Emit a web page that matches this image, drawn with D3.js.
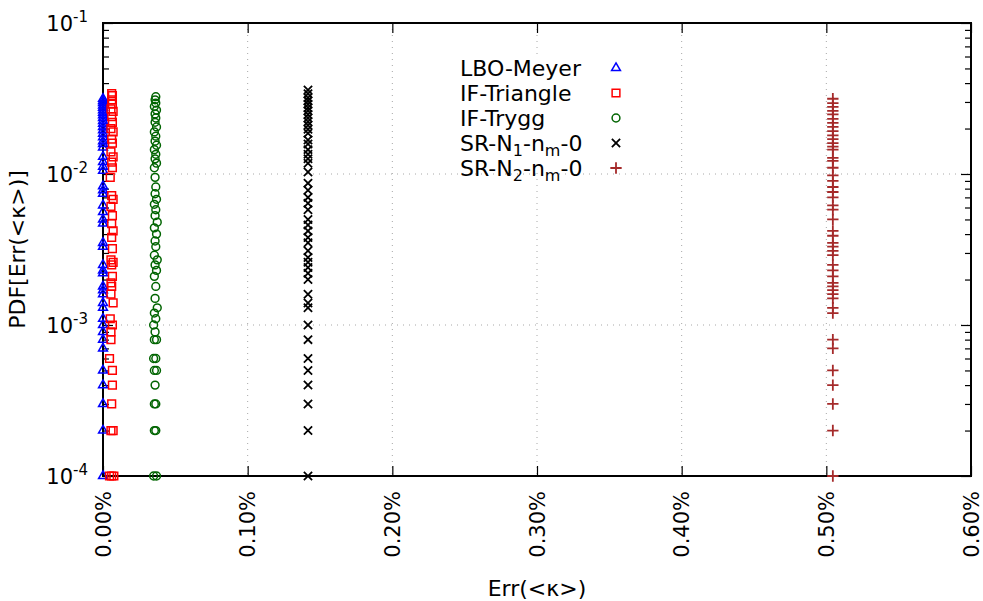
<!DOCTYPE html>
<html>
<head>
<meta charset="utf-8">
<script src="https://cdn.jsdelivr.net/npm/d3@7"></script>
<style>
  html, body { margin: 0; padding: 0; background: #fff; }
  svg { display: block; }
  text { font-family: "DejaVu Sans", sans-serif; }
</style>
</head>
<body>
<svg id="chart" width="983" height="601"></svg>
<script>
// ---------------- data ----------------
const xTicks = [0, 0.1, 0.2, 0.3, 0.4, 0.5, 0.6];           // Err in %
const xTickLabels = ["0.00%", "0.10%", "0.20%", "0.30%", "0.40%", "0.50%", "0.60%"];
const yTickExps = [-1, -2, -3, -4];

const seriesNames = ["LBO-Meyer", "IF-Triangle", "IF-Trygg", "SR-N1-nm-0", "SR-N2-nm-0"];
const seriesColors = ["#0000ff", "#ff0000", "#006400", "#000000", "#a52a2a"];

// LBO-Meyer: Err ~ 0.000 %
const lboErr = 0.0;
const lboPdf = [0.0001,0.0002,0.0003,0.0004,0.0005,0.0007,0.0008,0.0009,0.0010,0.0011,0.0013,0.0014,0.0016,0.0017,0.0018,0.0022,0.0023,0.0025,0.0033,0.0035,0.0047,0.0050,0.0056,0.0062,0.0074,0.0078,0.0083,0.0105,0.0112,0.0120,0.0130,0.0150,0.0158,0.0165,0.0175,0.0185,0.0195,0.0205,0.0215,0.0225,0.0235,0.0245,0.0255,0.0265,0.0275,0.0285,0.0295,0.0305,0.0315];

// IF-Triangle: [Err %, PDF]
const triPoints = [[0.0060,0.0001],[0.0045,0.0001],[0.0075,0.0001],[0.0055,0.0002],[0.0070,0.0002],[0.0060,0.0003],[0.0065,0.0004],[0.0065,0.0005],[0.0045,0.0006],[0.0055,0.0008],[0.0055,0.0009],[0.0065,0.0010],[0.0050,0.0011],[0.0070,0.0014],[0.0055,0.0016],[0.0060,0.0018],[0.0055,0.0019],[0.0065,0.0021],[0.0060,0.0025],[0.0070,0.0026],[0.0055,0.0027],[0.0065,0.0032],[0.0060,0.0038],[0.0070,0.0042],[0.0060,0.0047],[0.0065,0.0053],[0.0055,0.0061],[0.0070,0.0068],[0.0060,0.0072],[0.0050,0.0095],[0.0065,0.0110],[0.0060,0.0120],[0.0070,0.0130],[0.0055,0.0140],[0.0065,0.0160],[0.0060,0.0170],[0.0070,0.0190],[0.0055,0.0200],[0.0065,0.0220],[0.0060,0.0240],[0.0070,0.0260],[0.0055,0.0270],[0.0065,0.0290],[0.0060,0.0310],[0.0065,0.0330],[0.0060,0.0340]];

// IF-Trygg: [Err %, PDF]
const tryggPoints = [[0.0350,0.0001],[0.0370,0.0001],[0.0355,0.0002],[0.0365,0.0002],[0.0355,0.0003],[0.0365,0.0003],[0.0360,0.0004],[0.0355,0.0005],[0.0370,0.0005],[0.0350,0.0006],[0.0365,0.0006],[0.0355,0.0008],[0.0370,0.0008],[0.0360,0.0009],[0.0350,0.0010],[0.0365,0.0011],[0.0355,0.0012],[0.0375,0.0013],[0.0360,0.0015],[0.0365,0.0018],[0.0355,0.0021],[0.0370,0.0023],[0.0360,0.0025],[0.0375,0.0027],[0.0355,0.0029],[0.0365,0.0033],[0.0360,0.0036],[0.0370,0.0040],[0.0355,0.0044],[0.0375,0.0048],[0.0360,0.0053],[0.0365,0.0058],[0.0355,0.0063],[0.0370,0.0068],[0.0360,0.0074],[0.0365,0.0082],[0.0360,0.0095],[0.0355,0.0110],[0.0370,0.0118],[0.0360,0.0126],[0.0365,0.0135],[0.0355,0.0145],[0.0370,0.0155],[0.0360,0.0165],[0.0365,0.0178],[0.0355,0.0190],[0.0370,0.0205],[0.0360,0.0220],[0.0365,0.0235],[0.0360,0.0250],[0.0370,0.0265],[0.0355,0.0280],[0.0365,0.0295],[0.0360,0.0310],[0.0365,0.0325]];

// SR-N1-nm-0: Err ~ 0.1417 %
const srN1Err = 0.1417;
const srN1Pdf = [0.0001,0.0002,0.0003,0.0004,0.0005,0.0006,0.0008,0.0010,0.0013,0.0014,0.0016,0.0020,0.0022,0.0024,0.0026,0.0028,0.0031,0.0035,0.0038,0.0042,0.0046,0.0050,0.0058,0.0064,0.0070,0.0078,0.0087,0.0103,0.0118,0.0126,0.0135,0.0145,0.0158,0.0168,0.0186,0.0198,0.0210,0.0222,0.0235,0.0248,0.0262,0.0275,0.0290,0.0305,0.0320,0.0340,0.0360];

// SR-N2-nm-0: Err ~ 0.5045 %
const srN2Err = 0.5045;
const srN2Pdf = [0.0001,0.0002,0.0003,0.0004,0.0005,0.0007,0.0008,0.0012,0.0013,0.0015,0.0016,0.0017,0.0018,0.0019,0.0021,0.0023,0.0025,0.0029,0.0031,0.0033,0.0035,0.0039,0.0042,0.0050,0.0058,0.0062,0.0070,0.0076,0.0082,0.0090,0.0098,0.0110,0.0122,0.0128,0.0145,0.0152,0.0160,0.0170,0.0180,0.0192,0.0205,0.0218,0.0232,0.0248,0.0262,0.0278,0.0295,0.0315];

// ---------------- layout ----------------
const svg = d3.select("#chart");
const M = { left: 103, right: 971, top: 23, bottom: 476 };

const x = d3.scaleLinear().domain([0, 0.6]).range([M.left, M.right]);
const y = d3.scaleLog().domain([1e-4, 1e-1]).range([M.bottom, M.top]);

// grid (dotted)
const grid = svg.append("g").attr("stroke", "#a8a8a8").attr("stroke-width", 1)
  .attr("stroke-dasharray", "1,5");
xTicks.slice(1, -1).forEach(t => {
  grid.append("line").attr("x1", x(t)).attr("x2", x(t)).attr("y1", M.top).attr("y2", M.bottom);
});
yTickExps.slice(1, -1).forEach(e => {
  grid.append("line").attr("x1", M.left).attr("x2", M.right).attr("y1", y(Math.pow(10, e))).attr("y2", y(Math.pow(10, e)));
});

// axes (inward ticks) using d3 axes
const minorVals = [];
for (let e = -4; e < -1; e++) for (let k = 2; k <= 9; k++) minorVals.push(k * Math.pow(10, e));
const majorVals = yTickExps.map(e => Math.pow(10, e));

function styleAxis(g) {
  g.select(".domain").remove();
  g.selectAll("text").remove();
  g.selectAll("line").attr("stroke", "#000").attr("stroke-width", 1.2);
}
svg.append("g").attr("transform", `translate(${M.left},0)`)
  .call(d3.axisRight(y).tickValues(majorVals).tickSize(10)).call(styleAxis);
svg.append("g").attr("transform", `translate(${M.left},0)`)
  .call(d3.axisRight(y).tickValues(minorVals).tickSize(6)).call(styleAxis);
svg.append("g").attr("transform", `translate(${M.right},0)`)
  .call(d3.axisLeft(y).tickValues(majorVals).tickSize(10)).call(styleAxis);
svg.append("g").attr("transform", `translate(${M.right},0)`)
  .call(d3.axisLeft(y).tickValues(minorVals).tickSize(6)).call(styleAxis);
svg.append("g").attr("transform", `translate(0,${M.bottom})`)
  .call(d3.axisTop(x).tickValues(xTicks).tickSize(10)).call(styleAxis);
svg.append("g").attr("transform", `translate(0,${M.top})`)
  .call(d3.axisBottom(x).tickValues(xTicks).tickSize(10)).call(styleAxis);

// border
svg.append("rect").attr("x", M.left).attr("y", M.top)
  .attr("width", M.right - M.left).attr("height", M.bottom - M.top)
  .attr("fill", "none").attr("stroke", "#000").attr("stroke-width", 2);

// y tick labels 10^e
yTickExps.forEach(e => {
  const t = svg.append("text").attr("x", 88).attr("y", y(Math.pow(10, e)) + 8)
    .attr("text-anchor", "end").attr("font-size", 21).attr("fill", "#000");
  t.append("tspan").text("10");
  t.append("tspan").attr("dy", -9).attr("font-size", 15).text(String(e));
});

// x tick labels (rotated)
xTicks.forEach((t, i) => {
  svg.append("text")
    .attr("transform", `translate(${x(t)},491) rotate(-90)`)
    .attr("text-anchor", "end").attr("dy", "0.36em")
    .attr("font-size", 21).attr("fill", "#000")
    .text(xTickLabels[i]);
});

// axis titles
svg.append("text").attr("x", (M.left + M.right) / 2).attr("y", 596)
  .attr("text-anchor", "middle").attr("font-size", 22).attr("fill", "#000")
  .text("Err(<κ>)");
svg.append("text").attr("transform", `translate(25,${(M.top + M.bottom) / 2}) rotate(-90)`)
  .attr("text-anchor", "middle").attr("font-size", 22).attr("fill", "#000")
  .text("PDF[Err(<κ>)]");

// symbols
const symTimes = d3.symbolTimes || d3.symbolX;
const symPlus = d3.symbolPlus || d3.symbolCross;
const symTypes = [d3.symbolTriangle, d3.symbolSquare, d3.symbolCircle, symTimes, symPlus];
const symSizes = [34, 60, 48, 46, 44];
const symWidths = [1.5, 1.5, 1.5, 1.8, 1.8];

const series = [
  lboPdf.map(p => [lboErr, p]),
  triPoints,
  tryggPoints,
  srN1Pdf.map(p => [srN1Err, p]),
  srN2Pdf.map(p => [srN2Err, p])
];

const plot = svg.append("g");
series.forEach((pts, i) => {
  const gen = d3.symbol().type(symTypes[i]).size(symSizes[i]);
  plot.append("g").selectAll("path").data(pts).join("path")
    .attr("transform", d => `translate(${x(d[0])},${y(d[1])})`)
    .attr("d", gen)
    .attr("fill", "none")
    .attr("stroke", seriesColors[i])
    .attr("stroke-width", symWidths[i]);
});

// legend
const lg = svg.append("g");
lg.append("rect").attr("x", 452).attr("y", 57).attr("width", 180).attr("height", 114).attr("fill", "#fff");
const rowY = d => 68 + d * 25;
seriesNames.forEach((name, i) => {
  const t = lg.append("text").attr("x", 460).attr("y", rowY(i) + 8)
    .attr("font-size", 22).attr("fill", "#000");
  if (i >= 3) {
    t.append("tspan").text("SR-N");
    t.append("tspan").attr("font-size", 16).attr("dy", 5).text(i === 3 ? "1" : "2");
    t.append("tspan").attr("dy", -5).text("-n");
    t.append("tspan").attr("font-size", 16).attr("dy", 5).text("m");
    t.append("tspan").attr("dy", -5).text("-0");
  } else {
    t.text(name);
  }
  const gen = d3.symbol().type(symTypes[i]).size(symSizes[i]);
  lg.append("path").attr("transform", `translate(616,${rowY(i)})`)
    .attr("d", gen).attr("fill", "none")
    .attr("stroke", seriesColors[i]).attr("stroke-width", symWidths[i]);
});
</script>
</body>
</html>
